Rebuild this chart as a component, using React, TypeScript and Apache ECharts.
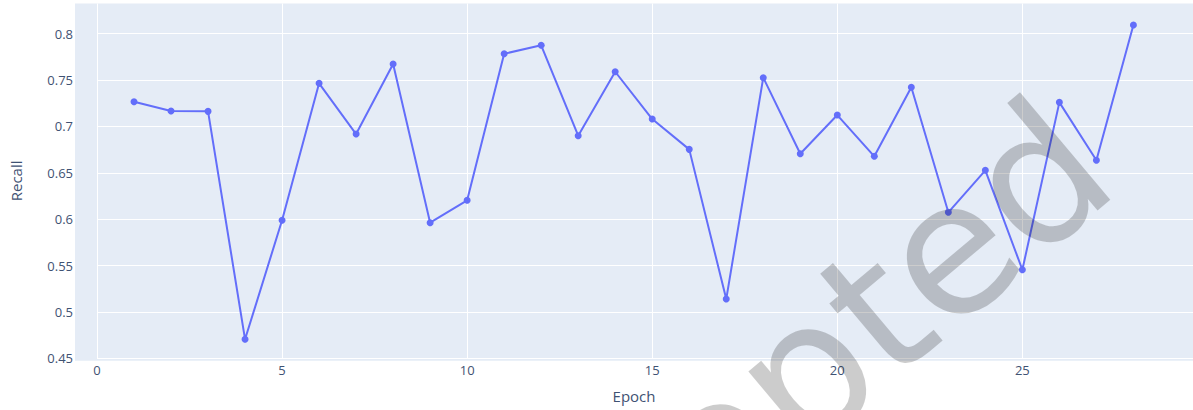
import React, { useEffect, useRef } from "react";
import * as echarts from "echarts";

const epochs = [1, 2, 3, 4, 5, 6, 7, 8, 9, 10, 11, 12, 13, 14, 15, 16, 17, 18, 19, 20, 21, 22, 23, 24, 25, 26, 27, 28];
const recall = [
  0.7267, 0.7166, 0.7163, 0.4705, 0.5988, 0.7465, 0.6918, 0.7673, 0.5962, 0.6204,
  0.7784, 0.7875, 0.69, 0.759, 0.708, 0.6753, 0.5139, 0.7526, 0.6706, 0.7123,
  0.6678, 0.7422, 0.6074, 0.6527, 0.5455, 0.726, 0.6635, 0.8094,
];
const xTitle = "Epoch";
const yTitle = "Recall";
const watermark = "Accepted";

const W = 1193;
const H = 410;
const TEXT = "#3f5273";
const BG = "#e5ecf6";
const LINE = "#636efa";

export default function App() {
  const ref = useRef<HTMLDivElement>(null);
  useEffect(() => {
    document.body.style.margin = "0";
    if (!ref.current) return;
    const chart = echarts.init(ref.current, null, { renderer: "svg" });
    const plotLeft = 75;
    const plotTop = 3.5;
    const plotRight = 1195;
    const plotBottom = 360.7;
    chart.setOption({
      animation: false,
      textStyle: { fontFamily: "Open Sans", color: TEXT },
      grid: { left: 97, top: 3.5, right: W - 1195, bottom: 51.7, containLabel: false },
      xAxis: {
        type: "value",
        min: 0,
        max: 29.61,
        interval: 5,
        name: xTitle,
        nameLocation: "middle",
        nameGap: 30,
        nameTextStyle: { fontSize: 15, color: TEXT, fontFamily: "Open Sans", padding: [0, 22, 0, 0] },
        axisLine: { show: false },
        axisTick: { show: false },
        axisLabel: { fontSize: 13, color: TEXT, margin: 5, showMaxLabel: false, fontFamily: "Open Sans" },
        splitLine: { show: true, showMaxLine: false, lineStyle: { color: "#ffffff", width: 1 } },
      },
      yAxis: {
        type: "value",
        min: 0.45,
        max: 0.8326,
        interval: 0.05,
        name: yTitle,
        nameLocation: "middle",
        nameGap: 74,
        nameTextStyle: { fontSize: 15, color: TEXT, fontFamily: "Open Sans" },
        axisLine: { show: false },
        axisTick: { show: false },
        axisLabel: { fontSize: 13, color: TEXT, margin: 24, showMaxLabel: false, fontFamily: "Open Sans" },
        splitLine: { show: true, showMaxLine: false, lineStyle: { color: "#ffffff", width: 1 } },
      },
      graphic: [
        {
          type: "rect",
          z: -10,
          silent: true,
          shape: { x: plotLeft, y: plotTop, width: plotRight - plotLeft, height: plotBottom - plotTop },
          style: { fill: BG },
        },
        {
          type: "text",
          z: 100,
          silent: true,
          x: 1082,
          y: 140,
          rotation: (40 * Math.PI) / 180,
          style: {
            text: watermark,
            fontSize: 185,
            fontFamily: "DejaVu Sans",
            fill: "rgba(0,0,0,0.2)",
            align: "right",
            verticalAlign: "middle",
          },
        },
      ],
      series: [
        {
          type: "line",
          data: epochs.map((e, i) => [e, recall[i]]),
          symbol: "circle",
          symbolSize: 7,
          itemStyle: { color: LINE },
          lineStyle: { color: LINE, width: 2 },
          clip: false,
        },
      ],
    });
    return () => chart.dispose();
  }, []);
  return <div ref={ref} style={{ position: "absolute", left: 0, top: 0, width: W, height: H }} />;
}
